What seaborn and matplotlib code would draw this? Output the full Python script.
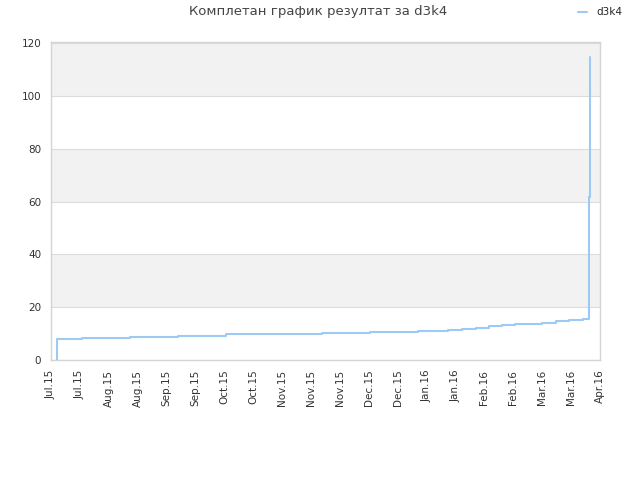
import matplotlib
matplotlib.use("Agg")
import matplotlib.pyplot as plt
import seaborn as sns
import pandas as pd

# Data (x in tick-index units, step values)
x_pos = [0.21, 0.21, 1.06, 2.73, 4.39, 6.06, 7.72, 9.38, 11.04, 12.71, 13.75,
         14.23, 14.70, 15.16, 15.62, 16.07, 16.53, 16.99, 17.46, 17.92, 18.42,
         18.62, 18.65]
values = [0, 7.9, 8.4, 8.8, 9.2, 9.7, 9.9, 10.3, 10.7, 11.1, 11.4,
          11.8, 12.3, 12.7, 13.2, 13.6, 13.8, 14.2, 14.6, 15.0, 15.4,
          61.6, 115]
tick_labels = ["Jul.15", "Jul.15", "Aug.15", "Aug.15", "Sep.15", "Sep.15",
               "Oct.15", "Oct.15", "Nov.15", "Nov.15", "Nov.15", "Dec.15",
               "Dec.15", "Jan.16", "Jan.16", "Feb.16", "Feb.16", "Mar.16",
               "Mar.16", "Apr.16"]
y_ticks = [0, 20, 40, 60, 80, 100, 120]
series_name = "d3k4"
title = "Комплетан график резултат за d3k4"

df = pd.DataFrame({"x": x_pos, "y": values})

sns.set_theme(style="white")
plt.rcParams['font.family'] = ['DejaVu Sans']

fig = plt.figure(figsize=(6.4, 4.8), dpi=100)
ax = fig.add_axes([51/640, 120/480, 549/640, 318/480])

for lo in range(20, 120, 40):
    ax.axhspan(lo, lo + 20, color="#f2f2f2", zorder=0, lw=0)
for y in y_ticks:
    ax.axhline(y, color="#dcdcdc", lw=0.8, zorder=1)

sns.lineplot(data=df, x="x", y="y", estimator=None, sort=False,
             drawstyle="steps-post", color="#9ccaf4", lw=1.5, ax=ax,
             label=series_name, legend=False, zorder=3)

ax.set_xlim(0, len(tick_labels) - 1)
ax.set_ylim(0, 120.5)
ax.set_xticks(range(len(tick_labels)))
ax.set_xticklabels(tick_labels, rotation=90, fontsize=7.5, color="#333333")
ax.set_yticks(y_ticks)
ax.set_yticklabels([str(v) for v in y_ticks], fontsize=7.5, color="#333333")
ax.tick_params(axis="both", length=0, pad=7)
ax.set_xlabel("")
ax.set_ylabel("")
for s in ax.spines.values():
    s.set_color("#d4d4d4")
    s.set_linewidth(1.0)

fig.text(0.497, 0.975, title, ha="center", va="center", fontsize=9.5,
         color="#444444")

handles, labels = ax.get_legend_handles_labels()
fig.legend(handles, labels, loc="center right", bbox_to_anchor=(0.973, 0.974),
           frameon=False, fontsize=7.5, handlelength=0.9, handletextpad=0.9,
           borderpad=0, borderaxespad=0)

fig.savefig("out.png", dpi=100, facecolor="white")
